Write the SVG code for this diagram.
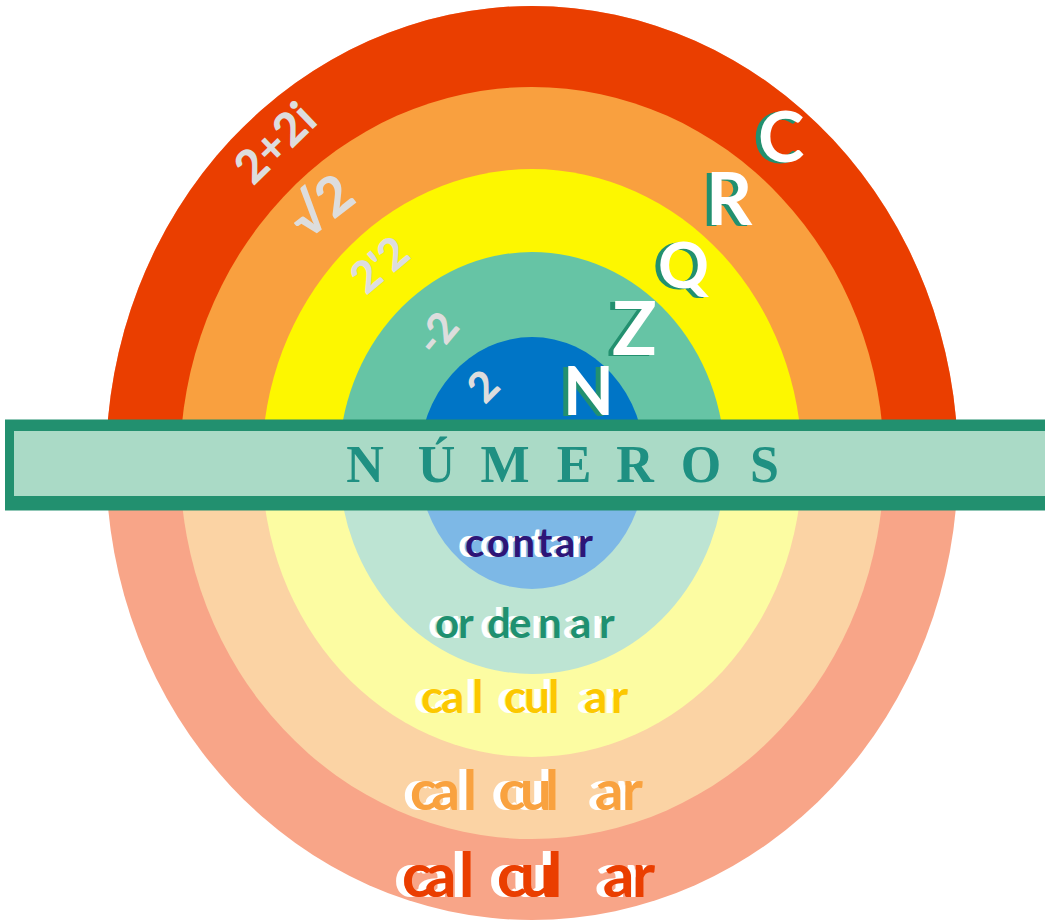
<svg xmlns="http://www.w3.org/2000/svg" width="1045" height="922" viewBox="0 0 1045 922">
<style>
.lbl{font-family:Lato,"Open Sans","Liberation Sans",sans-serif;font-weight:700}
.num{font-family:Lato,"Liberation Sans",sans-serif;font-weight:900;fill:#dddddd}
.set{font-family:Lato,"Open Sans","Liberation Sans",sans-serif;font-weight:700}
.sh{fill:#22906f}
.fg{fill:#ffffff}
.wh{fill:#ffffff}
</style>
<defs>
<clipPath id="top"><rect x="0" y="0" width="1045" height="466"/></clipPath>
</defs>
<rect width="1045" height="922" fill="#ffffff"/>
<g id="rings-bottom">
<ellipse cx="532" cy="463" rx="426" ry="457" fill="#f8a588"/>
<ellipse cx="532" cy="463" rx="352" ry="376" fill="#fbd3a4"/>
<ellipse cx="532" cy="463" rx="270" ry="294" fill="#fcfca2"/>
<ellipse cx="532" cy="463" rx="193" ry="211" fill="#bde4d3"/>
<ellipse cx="532" cy="463" rx="113" ry="126" fill="#7db8e6"/>
</g>
<g id="rings-top" clip-path="url(#top)">
<ellipse cx="532" cy="463" rx="426" ry="457" fill="#ea3e00"/>
<ellipse cx="532" cy="463" rx="352" ry="376" fill="#f9a03f"/>
<ellipse cx="532" cy="463" rx="270" ry="294" fill="#fdf700"/>
<ellipse cx="532" cy="463" rx="193" ry="211" fill="#66c4a5"/>
<ellipse cx="532" cy="463" rx="113" ry="126" fill="#0075c6"/>
</g>
<g id="examples" class="num">
<text transform="translate(278,146) rotate(-44)" font-size="46" text-anchor="middle" dominant-baseline="middle">2+2i</text>
<text transform="translate(324,210) rotate(-38)" font-size="54" text-anchor="middle" dominant-baseline="middle">√2</text>
<text transform="translate(382,268) rotate(-40)" font-size="44" text-anchor="middle" dominant-baseline="middle">2'2</text>
<text transform="translate(440,336) rotate(-50)" font-size="42" text-anchor="middle" dominant-baseline="middle">-2</text>
<text transform="translate(486,389) rotate(-45)" font-size="42" text-anchor="middle" dominant-baseline="middle">2</text>
</g>
<g id="sets" class="set">
<text class="sh" x="753" y="163" font-size="70">C</text>
<text class="fg" x="758" y="162" font-size="70">C</text>
<text class="sh" x="701" y="226" font-size="72">R</text>
<text class="fg" x="706" y="225" font-size="72">R</text>
<text class="sh" x="653" y="289" font-size="63">Q</text>
<text class="fg" x="658" y="288" font-size="63">Q</text>
<text class="sh" x="607" y="356" font-size="74">Z</text>
<text class="fg" x="612" y="355" font-size="74">Z</text>
<text class="sh" x="558" y="416" font-size="66">N</text>
<text class="fg" x="563" y="415" font-size="66">N</text>
</g>
<g id="banner">
<rect x="5" y="419.5" width="1050" height="91" fill="#22906f"/>
<rect x="14" y="431" width="1040" height="65" fill="#aadac6"/>
<text x="365 436.5 505 574 635 701 764.5" y="482" text-anchor="middle" font-family="'Liberation Serif',serif" font-weight="700" font-size="52" fill="#1f9082">NÚMEROS</text>
</g>
<g id="verbs" class="lbl">
<text class="wh" x="458" y="557" font-size="40" textLength="128" lengthAdjust="spacing">contar</text>
<text x="465" y="557" font-size="40" textLength="128" lengthAdjust="spacing" fill="#2d1577">contar</text>
<text class="wh" x="428 451 480 502 531 563 592" y="638" font-size="42">ordenar</text>
<text x="435 458 487 509 538 570 599" y="638" font-size="42" fill="#1f9070">ordenar</text>
<text class="wh" x="414 434 465 497 517 541 577 604" y="713" font-size="46">calcular</text>
<text x="421 441 472 504 524 548 584 611" y="713" font-size="46" fill="#fcc800">calcular</text>
<text class="wh" x="403 424.5 456 491.6 513 538 588 615" y="810" font-size="56">calcular</text>
<text x="410 431.5 463 498.6 520 545 595 622" y="810" font-size="56" fill="#f9a23f">calcular</text>
<text class="wh" x="394 417 451 489 512 539 595 624" y="897" font-size="62">calcular</text>
<text x="402 425 459 497 520 547 603 632" y="897" font-size="62" fill="#ea3e00">calcular</text>
</g>
</svg>
